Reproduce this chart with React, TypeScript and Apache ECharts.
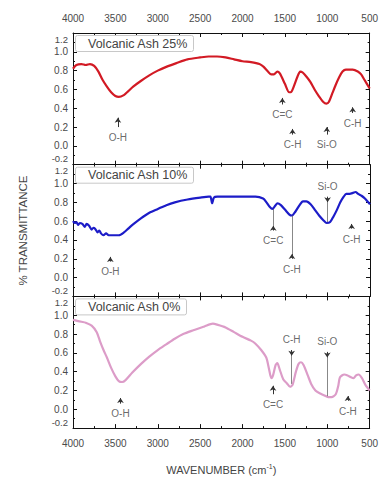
import React, { useEffect, useRef } from "react";
import * as echarts from "echarts";

// ---------- data ----------
const panelTitles = ["Volcanic Ash 25%", "Volcanic Ash 10%", "Volcanic Ash 0%"];
const lineColors = ["#d21a24", "#1c1cc8", "#dc9cc8"];

const wn25 = [4000, 3960, 3900, 3850, 3800, 3750, 3700, 3650, 3600, 3550, 3500, 3460, 3400, 3350, 3290, 3200, 3100, 3000, 2900, 2780, 2650, 2500, 2400, 2300, 2200, 2100, 2000, 1900, 1800, 1750, 1700, 1660, 1630, 1590, 1560, 1500, 1450, 1430, 1400, 1350, 1320, 1290, 1240, 1200, 1150, 1100, 1050, 1010, 980, 940, 900, 860, 820, 780, 700, 640, 600, 560, 520, 500];
const t25 = [0.82, 0.86, 0.87, 0.86, 0.87, 0.85, 0.79, 0.7, 0.63, 0.57, 0.53, 0.52, 0.54, 0.58, 0.63, 0.69, 0.75, 0.8, 0.84, 0.88, 0.92, 0.94, 0.95, 0.95, 0.94, 0.92, 0.9, 0.89, 0.87, 0.84, 0.79, 0.76, 0.76, 0.79, 0.77, 0.66, 0.57, 0.57, 0.62, 0.74, 0.79, 0.78, 0.73, 0.68, 0.6, 0.53, 0.47, 0.45, 0.47, 0.56, 0.65, 0.73, 0.79, 0.81, 0.81, 0.79, 0.76, 0.7, 0.64, 0.61];

const wn10 = [4000, 3980, 3960, 3940, 3920, 3890, 3860, 3840, 3810, 3780, 3760, 3740, 3710, 3690, 3670, 3640, 3610, 3580, 3550, 3500, 3460, 3400, 3350, 3300, 3200, 3100, 3000, 2900, 2800, 2650, 2500, 2400, 2380, 2360, 2340, 2300, 2200, 2000, 1850, 1760, 1720, 1680, 1650, 1620, 1590, 1550, 1500, 1450, 1420, 1380, 1330, 1290, 1250, 1200, 1150, 1100, 1050, 1010, 970, 930, 890, 850, 810, 780, 740, 700, 670, 640, 600, 560, 520, 500];
const t10 = [0.6, 0.58, 0.59, 0.56, 0.58, 0.57, 0.54, 0.57, 0.55, 0.51, 0.53, 0.52, 0.48, 0.5, 0.47, 0.45, 0.47, 0.45, 0.45, 0.45, 0.45, 0.48, 0.52, 0.56, 0.63, 0.69, 0.73, 0.77, 0.8, 0.83, 0.85, 0.86, 0.86, 0.79, 0.85, 0.86, 0.86, 0.86, 0.86, 0.84, 0.8, 0.75, 0.73, 0.76, 0.79, 0.77, 0.72, 0.67, 0.66, 0.7, 0.77, 0.81, 0.81, 0.78, 0.72, 0.66, 0.61, 0.58, 0.59, 0.65, 0.72, 0.8, 0.86, 0.89, 0.89, 0.9, 0.91, 0.89, 0.87, 0.84, 0.8, 0.78];

const wn0 = [4000, 3950, 3900, 3850, 3780, 3720, 3680, 3640, 3600, 3550, 3500, 3460, 3420, 3380, 3300, 3200, 3100, 3000, 2900, 2800, 2700, 2580, 2450, 2350, 2300, 2200, 2100, 2000, 1900, 1850, 1780, 1720, 1690, 1660, 1640, 1610, 1590, 1560, 1520, 1480, 1440, 1410, 1370, 1340, 1310, 1280, 1230, 1190, 1140, 1090, 1040, 990, 950, 900, 870, 850, 800, 760, 720, 690, 660, 630, 590, 550, 500];
const t0 = [0.95, 0.94, 0.93, 0.92, 0.89, 0.82, 0.72, 0.63, 0.55, 0.44, 0.35, 0.3, 0.29, 0.31, 0.39, 0.48, 0.56, 0.63, 0.69, 0.75, 0.8, 0.84, 0.88, 0.91, 0.9, 0.87, 0.82, 0.77, 0.73, 0.7, 0.63, 0.55, 0.44, 0.33, 0.36, 0.47, 0.49, 0.42, 0.32, 0.28, 0.24, 0.26, 0.4, 0.48, 0.5, 0.47, 0.36, 0.27, 0.2, 0.17, 0.15, 0.13, 0.13, 0.16, 0.25, 0.34, 0.37, 0.36, 0.34, 0.33, 0.36, 0.37, 0.33, 0.26, 0.2];

// annotations: label, wavenumber, label value, arrow tip value, line end (curve) value or null
const annText25 = ["O-H", "C=C", "C-H", "Si-O", "C-H"];
const annWn25 = [3470, 1530, 1410, 1005, 700];
const annLab25 = [0.09, 0.33, 0.01, 0.01, 0.24];
const annTip25 = [0.3, 0.51, 0.18, 0.2, 0.41];
const annEnd25: (number | null)[] = [null, null, null, null, null];

const annText10 = ["O-H", "C=C", "C-H", "Si-O", "C-H"];
const annWn10 = [3560, 1640, 1420, 1000, 716];
const annLab10 = [0.06, 0.39, 0.09, 0.97, 0.41];
const annTip10 = [0.22, 0.55, 0.25, 0.8, 0.57];
const annEnd10: (number | null)[] = [null, 0.73, 0.66, 0.59, null];

const annText0 = ["O-H", "C=C", "C-H", "Si-O", "C-H"];
const annWn0 = [3440, 1640, 1420, 1000, 756];
const annLab0 = [-0.05, 0.05, 0.74, 0.72, -0.02];
const annTip0 = [0.12, 0.25, 0.57, 0.55, 0.14];
const annEnd0: (number | null)[] = [null, null, 0.27, 0.14, null];

const xMin = 500;
const xMax = 4000;
const xStep = 500;
const yMin = -0.2;
const yMax = 1.2;
const yStep = 0.2;

const FONT = "Liberation Sans, Arial, sans-serif";

export default function App() {
  const ref = useRef<HTMLDivElement>(null);

  useEffect(() => {
    if (!ref.current) return;
    const chart = echarts.init(ref.current, null, { renderer: "svg" });

    const panelTop = 33;
    const panelH = 131.7;
    const grids = [0, 1, 2].map((i) => ({
      left: 73,
      right: 11,
      top: panelTop + i * panelH,
      height: panelH,
      containLabel: false,
    }));

    const series: any[] = [];
    const xAxes: any[] = [];
    const yAxes: any[] = [];

    const datasets = [
      { wn: wn25, t: t25 },
      { wn: wn10, t: t10 },
      { wn: wn0, t: t0 },
    ];
    const anns = [
      { text: annText25, wn: annWn25, lab: annLab25, tip: annTip25, end: annEnd25 },
      { text: annText10, wn: annWn10, lab: annLab10, tip: annTip10, end: annEnd10 },
      { text: annText0, wn: annWn0, lab: annLab0, tip: annTip0, end: annEnd0 },
    ];

    for (let i = 0; i < 3; i++) {
      for (const pos of ["bottom", "top"]) {
        const showLab = (i === 0 && pos === "top") || (i === 2 && pos === "bottom");
        const ax: any = {
          type: "value",
          gridIndex: i,
          position: pos,
          min: xMin,
          max: xMax,
          interval: xStep,
          inverse: true,
          axisLine: { show: true, onZero: false, lineStyle: { color: "#111", width: 1 } },
          axisTick: { show: true, inside: true, length: 4, lineStyle: { color: "#111" } },
          minorTick: { show: true, splitNumber: 2, length: 2, lineStyle: { color: "#111" } },
          splitLine: { show: false },
          axisLabel: {
            show: showLab,
            margin: 10,
            color: "#4a4a4a",
            fontSize: 10,
            fontFamily: FONT,
            formatter: (v: number) => String(Math.round(v)),
          },
        };
        if (i === 2 && pos === "bottom") {
          ax.name = "{a|WAVENUMBER (cm}{s|-1}{a|)}";
          ax.nameLocation = "middle";
          ax.nameGap = 35;
          ax.nameTextStyle = {
            rich: {
              a: { fontSize: 11, color: "#444", fontFamily: FONT },
              s: { fontSize: 7, color: "#444", fontFamily: FONT, verticalAlign: "top", padding: [0, 0, 6, 0] },
            },
          };
        }
        xAxes.push(ax);
      }
      for (const pos of ["left", "right"]) {
        const ay: any = {
          type: "value",
          gridIndex: i,
          position: pos,
          min: yMin,
          max: yMax,
          interval: yStep,
          axisLine: { show: true, onZero: false, lineStyle: { color: "#111", width: 1 } },
          axisTick: { show: true, inside: true, length: 4, lineStyle: { color: "#111" } },
          minorTick: { show: true, splitNumber: 2, length: 2, lineStyle: { color: "#111" } },
          splitLine: { show: false },
          axisLabel: {
            show: pos === "left",
            margin: 5,
            color: "#4a4a4a",
            fontSize: 10,
            fontFamily: FONT,
            formatter: (v: number) => {
              const s = (Math.abs(v) < 1e-9 ? 0 : v).toFixed(1);
              if (Math.abs(v - yMax) < 1e-9) return "{t|" + s + "}";
              if (Math.abs(v - yMin) < 1e-9) return "{b|" + s + "}";
              return s;
            },
            rich: {
              t: { fontSize: 9.5, color: "#4a4a4a", fontFamily: FONT, padding: [12, 0, 0, 0] },
              b: { fontSize: 9.5, color: "#4a4a4a", fontFamily: FONT, padding: [0, 0, 12, 0] },
            },
          },
        };
        if (i === 1 && pos === "left") {
          ay.name = "% TRANSMITTANCE";
          ay.nameLocation = "middle";
          ay.nameGap = 44;
          ay.nameRotate = 90;
          ay.nameTextStyle = { fontSize: 11.5, color: "#444", fontFamily: FONT };
        }
        yAxes.push(ay);
      }

      const d = datasets[i];
      series.push({
        type: "line",
        xAxisIndex: 2 * i,
        yAxisIndex: 2 * i,
        data: d.wn.map((w, k) => [w, d.t[k]]),
        showSymbol: false,
        smooth: 0.25,
        lineStyle: { color: lineColors[i], width: 2.2 },
        z: 3,
      });

      const a = anns[i];
      series.push({
        type: "scatter",
        xAxisIndex: 2 * i,
        yAxisIndex: 2 * i,
        symbolSize: 1,
        itemStyle: { color: "rgba(0,0,0,0)" },
        data: a.wn.map((w, k) => ({ name: a.text[k], value: [w, a.lab[k]] })),
        label: {
          show: true,
          position: "inside",
          formatter: (p: any) => p.name,
          fontSize: 10,
          color: "#444",
          fontFamily: FONT,
        },
        z: 5,
      });
      series.push({
        type: "lines",
        coordinateSystem: "cartesian2d",
        xAxisIndex: 2 * i,
        yAxisIndex: 2 * i,
        symbol: ["none", "arrow"],
        symbolSize: 5,
        lineStyle: { color: "#333", width: 1, opacity: 1 },
        data: a.wn.map((w, k) => {
          const below = a.lab[k] < a.tip[k];
          const start = a.lab[k] + (below ? 0.11 : -0.11);
          return { coords: [[w, start], [w, a.tip[k]]] };
        }),
        z: 5,
      });
      const longLines = a.wn
        .map((w, k) => (a.end[k] == null ? null : { coords: [[w, a.tip[k]], [w, a.end[k] as number]] }))
        .filter((x) => x != null);
      if (longLines.length) {
        series.push({
          type: "lines",
          coordinateSystem: "cartesian2d",
          xAxisIndex: 2 * i,
          yAxisIndex: 2 * i,
          symbol: ["none", "none"],
          lineStyle: { color: "#555", width: 0.7, opacity: 1 },
          data: longLines,
          z: 4,
        });
      }
    }

    const titles = panelTitles.map((t, i) => ({
      text: t,
      left: 75,
      top: panelTop + i * panelH + 2,
      backgroundColor: "#fff",
      borderColor: "#c8c8c8",
      borderWidth: 1,
      borderRadius: 2,
      padding: [2, 6, 2, 13],
      textStyle: { fontSize: 12.5, fontWeight: "normal", color: "#444", fontFamily: FONT },
      z: 10,
    }));

    chart.setOption({
      animation: false,
      backgroundColor: "#fff",
      title: titles,
      grid: grids,
      xAxis: xAxes,
      yAxis: yAxes,
      series,
    });

    return () => chart.dispose();
  }, []);

  return (
    <div
      ref={ref}
      style={{ position: "absolute", left: 0, top: 0, width: 381, height: 479 }}
    />
  );
}
